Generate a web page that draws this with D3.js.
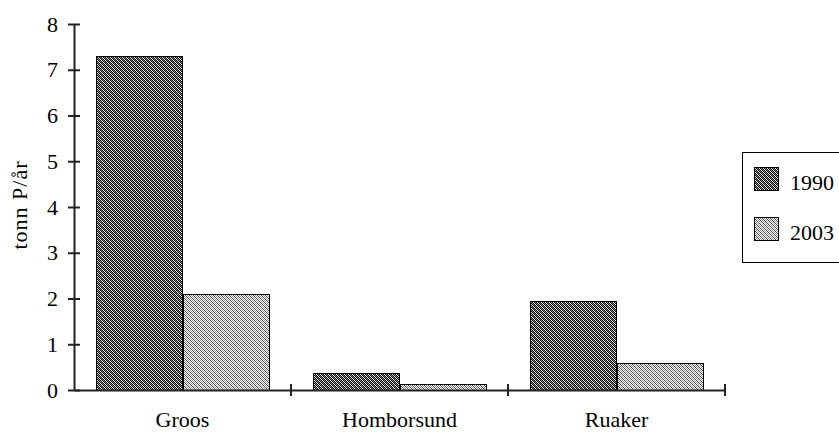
<!DOCTYPE html>
<html><head><meta charset="utf-8">
<script src="https://cdn.jsdelivr.net/npm/d3@7/dist/d3.min.js"></script>
<style>
body{margin:0;background:#fff;}
text{font-family:"Liberation Serif","Times New Roman",serif;fill:#000;}
</style></head>
<body><svg id="c" width="839" height="432"></svg>
<script>
const categories = ["Groos","Homborsund","Ruaker"];
const seriesNames = ["1990","2003"];
const values1990 = [7.3, 0.38, 1.94];
const values2003 = [2.1, 0.14, 0.58];
const yTicks = [0,1,2,3,4,5,6,7,8];
const yLabel = "tonn P/år";

const FS = 22;
const svg = d3.select("#c");
const defs = svg.append("defs");
// pattern 1990: dark dense checker
const p1 = defs.append("pattern").attr("id","pat1990").attr("patternUnits","userSpaceOnUse").attr("width",4).attr("height",4);
p1.append("rect").attr("width",4).attr("height",4).attr("fill","#fff");
for(let yy=0;yy<4;yy++)for(let xx=0;xx<4;xx++){
  let col;
  if((xx+yy)%2===0) col="#000";
  else col = (((xx-yy)%4+4)%4===1) ? "#888" : "#fff";
  p1.append("rect").attr("x",xx).attr("y",yy).attr("width",1).attr("height",1).attr("fill",col);
}
// pattern 2003: lighter diagonal checker
const p2 = defs.append("pattern").attr("id","pat2003").attr("patternUnits","userSpaceOnUse").attr("width",4).attr("height",4);
p2.append("rect").attr("width",4).attr("height",4).attr("fill","#fff");
for(let yy=0;yy<4;yy++)for(let xx=0;xx<4;xx++){
  let col="#fff";
  if((xx+yy)%2===0) col = (((xx-yy)%4+4)%4===0) ? "#444" : "#999";
  p2.append("rect").attr("x",xx).attr("y",yy).attr("width",1).attr("height",1).attr("fill",col);
}
const fills = {"1990":"url(#pat1990)","2003":"url(#pat2003)"};

const x0 = d3.scaleBand().domain(categories).range([74,725]).padding(0);
const x1 = d3.scaleBand().domain(seriesNames).range([0,x0.bandwidth()]).paddingInner(0).paddingOuter(0.26);
const y = d3.scaleLinear().domain([0,8]).range([390,24]);

const data = categories.map((c,i)=>({cat:c, vals:[{s:"1990",v:values1990[i]},{s:"2003",v:values2003[i]}]}));

const g = svg.append("g");
g.selectAll("g.grp").data(data).join("g").attr("class","grp")
 .attr("transform",d=>`translate(${Math.round(x0(d.cat))},0)`)
 .selectAll("rect").data(d=>d.vals).join("rect")
 .attr("x",d=>Math.round(x1(d.s))+0.5).attr("width",Math.round(x1.bandwidth()))
 .attr("y",d=>Math.round(y(d.v))+0.5).attr("height",d=>Math.round(y(0)-y(d.v)))
 .attr("fill",d=>fills[d.s]).attr("stroke","#000").attr("stroke-width",1);

// y axis
const yAxis = svg.append("g").attr("transform","translate(74,0)")
  .call(d3.axisLeft(y).tickValues(yTicks).tickFormat(d3.format("d")).tickSizeInner(0).tickSizeOuter(0));
yAxis.select(".domain").attr("stroke","#222").attr("stroke-width",2);
yAxis.selectAll(".tick line").attr("x1",-6).attr("x2",6).attr("stroke","#222").attr("stroke-width",2);
yAxis.selectAll(".tick text").attr("x",-16).attr("font-size",FS).attr("font-family","Liberation Serif").attr("fill","#000");

// x axis
const xAxis = svg.append("g").attr("transform","translate(0,390)")
  .call(d3.axisBottom(x0).tickSize(0).tickSizeOuter(0));
xAxis.select(".domain").attr("stroke","#222").attr("stroke-width",2);
xAxis.selectAll(".tick line").remove();
xAxis.selectAll(".tick text").attr("y",37).attr("dy",null).attr("font-size",FS).attr("font-family","Liberation Serif").attr("fill","#000");
// category boundary ticks
const bounds = categories.map(c=>x0(c)+x0.bandwidth());
xAxis.selectAll("line.bt").data(bounds).join("line").attr("class","bt")
  .attr("x1",d=>d).attr("x2",d=>d).attr("y1",-6).attr("y2",6).attr("stroke","#222").attr("stroke-width",2);

// y label
svg.append("text").attr("transform","translate(27,205) rotate(-90)")
  .attr("text-anchor","middle").attr("font-size",FS).attr("letter-spacing",1).text(yLabel);

// legend
const leg = svg.append("g");
leg.append("rect").attr("x",742.5).attr("y",152.5).attr("width",110).attr("height",110)
  .attr("fill","#fff").attr("stroke","#000").attr("stroke-width",1);
seriesNames.forEach((s,i)=>{
  const yy = 167 + i*50;
  leg.append("rect").attr("x",754.5).attr("y",yy+0.5).attr("width",24).attr("height",23)
    .attr("fill",fills[s]).attr("stroke","#000").attr("stroke-width",1);
  leg.append("text").attr("x",790).attr("y",yy+23).attr("font-size",FS).text(s);
});
</script></body></html>
